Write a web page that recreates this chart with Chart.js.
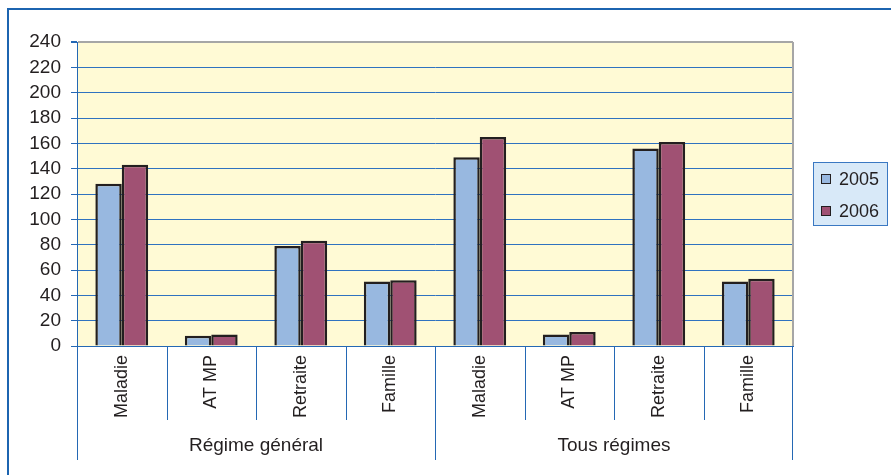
<!DOCTYPE html>
<html>
<head>
<meta charset="utf-8">
<script src="https://cdn.jsdelivr.net/npm/chart.js@4.4.0/dist/chart.umd.min.js"></script>
<style>
  html, body { margin: 0; padding: 0; background: #ffffff; }
  #wrap { width: 891px; height: 475px; position: relative; }
</style>
</head>
<body>
<div id="wrap"><canvas id="c" width="891" height="475"></canvas></div>
<script>
// Categories (one per bar pair) and the régime group each block of four belongs to
const categories = ['Maladie', 'AT MP', 'Retraite', 'Famille', 'Maladie', 'AT MP', 'Retraite', 'Famille'];
const groups = ['Régime général', 'Tous régimes'];
const groupSizes = [4, 4];

// Series values
const years = ['2005', '2006'];
const values2005 = [128, 8, 79, 51, 149, 9, 156, 51];
const values2006 = [143, 9, 83, 52, 165, 11, 161, 53];

// Y axis ticks
const yMin = 0;
const yMax = 240;
const yStep = 20;

const FONT = 'Liberation Sans, Arial, sans-serif';
const TEXT = '#231f20';
const BLUE = '#2468b4';
const GRID = '#2f72c0';
const colors = ['#98b8e0', '#a05173'];

const decorations = {
  id: 'decorations',
  beforeDraw(chart) {
    const ctx = chart.ctx;
    const a = chart.chartArea;
    ctx.save();
    // outer frame
    ctx.strokeStyle = '#1c64b0';
    ctx.lineWidth = 2;
    ctx.strokeRect(8, 9, 950, 520);
    // plot background
    ctx.fillStyle = '#fffad5';
    ctx.fillRect(a.left, a.top, a.right - a.left, a.bottom - a.top);
    ctx.restore();
  },
  afterDraw(chart) {
    const ctx = chart.ctx;
    const a = chart.chartArea;
    const xs = chart.scales.x;
    const n = categories.length;
    const cw = (a.right - a.left) / n;
    ctx.save();
    // right edge of plot
    ctx.strokeStyle = '#a6a6a6';
    ctx.lineWidth = 2;
    ctx.beginPath();
    ctx.moveTo(a.right, a.top);
    ctx.lineTo(a.right, a.bottom);
    ctx.stroke();

    // separators under the axis: short between categories, long between groups
    ctx.strokeStyle = BLUE;
    ctx.lineWidth = 1;
    const boundaries = new Set([0]);
    let acc = 0;
    groupSizes.forEach(s => { acc += s; boundaries.add(acc); });
    for (let i = 0; i <= n; i++) {
      const x = i === n
        ? Math.round(xs.getPixelForValue(n - 1) + cw / 2) - 0.5
        : Math.round(xs.getPixelForValue(i) - cw / 2) + 0.5;
      const bottom = boundaries.has(i) ? 460 : 420;
      ctx.beginPath();
      ctx.moveTo(x, a.bottom);
      ctx.lineTo(x, bottom);
      ctx.stroke();
    }

    // group labels
    ctx.fillStyle = TEXT;
    ctx.font = '19px ' + FONT;
    ctx.textAlign = 'center';
    ctx.textBaseline = 'middle';
    let start = 0;
    groups.forEach((g, gi) => {
      const end = start + groupSizes[gi] - 1;
      const cx = (xs.getPixelForValue(start) + xs.getPixelForValue(end)) / 2;
      ctx.fillText(g, cx, 446);
      start = end + 1;
    });

    // legend
    const lx = 813, ly = 162, lw = 75, lh = 64;
    ctx.fillStyle = '#d8e9f8';
    ctx.fillRect(lx, ly, lw, lh);
    ctx.strokeStyle = '#3a78c2';
    ctx.lineWidth = 1;
    ctx.strokeRect(lx + 0.5, ly + 0.5, lw - 1, lh - 1);
    ctx.textAlign = 'left';
    ctx.font = '18px ' + FONT;
    chart.data.datasets.forEach((ds, i) => {
      const cy = 179 + i * 32;
      ctx.fillStyle = ds.backgroundColor;
      ctx.fillRect(821, cy - 5, 10, 10);
      ctx.strokeStyle = TEXT;
      ctx.lineWidth = 1;
      ctx.strokeRect(821.5, cy - 4.5, 9, 9);
      ctx.fillStyle = TEXT;
      ctx.fillText(ds.label, 839, cy + 1);
    });
    ctx.restore();
  }
};

new Chart(document.getElementById('c'), {
  type: 'bar',
  data: {
    labels: categories,
    datasets: [
      { label: years[0], data: values2005, backgroundColor: colors[0] },
      { label: years[1], data: values2006, backgroundColor: colors[1] }
    ]
  },
  options: {
    responsive: false,
    animation: false,
    events: [],
    layout: { padding: { top: 42, right: 98, left: 0, bottom: 0 } },
    datasets: {
      bar: {
        barPercentage: 1.0,
        categoryPercentage: 0.59,
        borderColor: TEXT,
        borderWidth: 2.5,
        borderSkipped: 'bottom'
      }
    },
    plugins: {
      legend: { display: false },
      tooltip: { enabled: false }
    },
    scales: {
      x: {
        afterFit(scale) { scale.height = 129; },
        grid: { display: false, drawTicks: false },
        border: { display: true, color: BLUE, width: 1 },
        ticks: {
          autoSkip: false,
          minRotation: 90,
          maxRotation: 90,
          padding: 9,
          color: TEXT,
          font: { family: FONT, size: 18 }
        }
      },
      y: {
        min: yMin,
        max: yMax,
        afterFit(scale) { scale.width = 77; },
        grid: {
          color: c => (c.tick && c.tick.value === yMax) ? '#a6a6a6' : GRID,
          lineWidth: c => (c.tick && c.tick.value === yMax) ? 2 : 1,
          tickColor: BLUE,
          tickLength: 6
        },
        border: { color: BLUE, width: 1 },
        ticks: {
          stepSize: yStep,
          autoSkip: false,
          padding: 10,
          color: TEXT,
          font: { family: FONT, size: 19 }
        }
      }
    }
  },
  plugins: [decorations]
});
</script>
</body>
</html>
